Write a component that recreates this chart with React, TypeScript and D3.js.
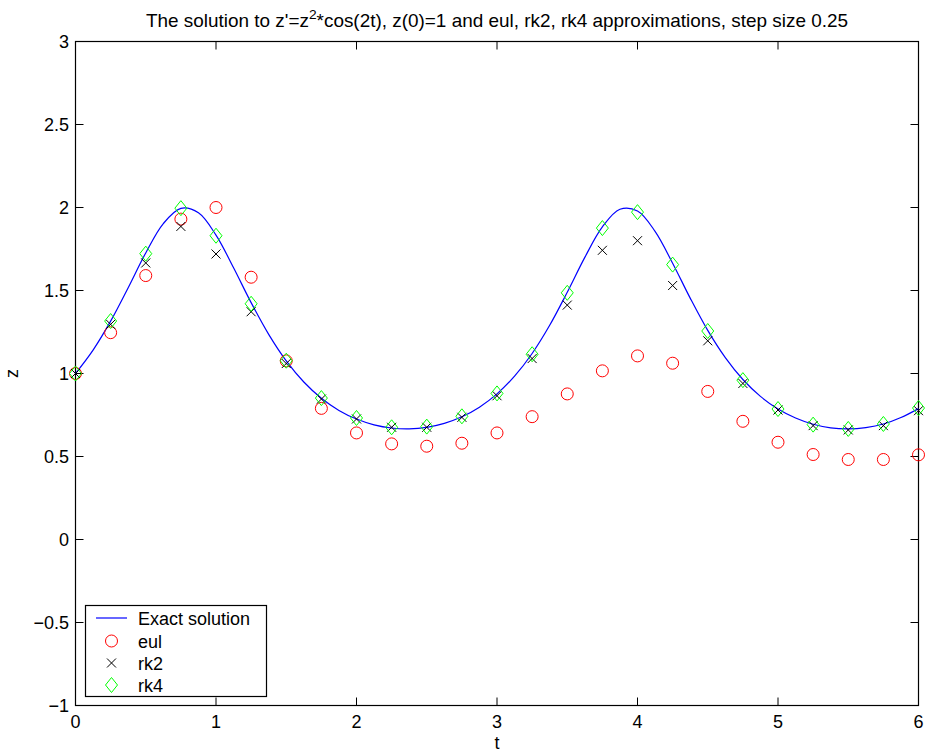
import React from "react";
import * as d3 from "d3";

// Exact solution sampled every 0.125
const exactT: number[] = d3.range(0, 6.0001, 0.125).map((v) => +v.toFixed(3));
const exactZ: number[] = [
  1.0, 1.1412, 1.3153, 1.517, 1.7264, 1.903, 1.995, 1.9685, 1.8337, 1.6368,
  1.427, 1.2359, 1.0759, 0.9487, 0.8508, 0.7777, 0.7255, 0.6908, 0.6717,
  0.6668, 0.6759, 0.6996, 0.7392, 0.7974, 0.8774, 0.9837, 1.1205, 1.2903,
  1.4892, 1.6994, 1.8832, 1.9893, 1.979, 1.8565, 1.6646, 1.4542, 1.2595,
  1.0955, 0.9638, 0.8621, 0.7862, 0.7319, 0.6945, 0.6729, 0.6667, 0.6744,
  0.6955, 0.7345, 0.7885,
];

const stepT: number[] = [
  0, 0.25, 0.5, 0.75, 1, 1.25, 1.5, 1.75, 2, 2.25, 2.5, 2.75, 3, 3.25, 3.5,
  3.75, 4, 4.25, 4.5, 4.75, 5, 5.25, 5.5, 5.75, 6,
];
const eulZ: number[] = [
  1.0, 1.246, 1.59, 1.93, 2.0, 1.58, 1.076, 0.79, 0.642, 0.576, 0.562, 0.58,
  0.642, 0.74, 0.877, 1.016, 1.106, 1.062, 0.892, 0.712, 0.586, 0.512, 0.482,
  0.482, 0.51,
];
const rk2Z: number[] = [
  1.0, 1.296, 1.666, 1.886, 1.72, 1.372, 1.06, 0.846, 0.726, 0.676, 0.676,
  0.736, 0.866, 1.09, 1.412, 1.742, 1.8, 1.53, 1.197, 0.94, 0.78, 0.686, 0.66,
  0.686, 0.776,
];
const rk4Z: number[] = [
  1.0, 1.316, 1.722, 1.996, 1.83, 1.42, 1.077, 0.852, 0.732, 0.676, 0.68,
  0.742, 0.88, 1.116, 1.486, 1.876, 1.972, 1.656, 1.256, 0.96, 0.786, 0.692,
  0.666, 0.696, 0.792,
];

const xTicks: number[] = [0, 1, 2, 3, 4, 5, 6];
const yTicks: number[] = [-1, -0.5, 0, 0.5, 1, 1.5, 2, 2.5, 3];
const legendLabels: string[] = ["Exact solution", "eul", "rk2", "rk4"];

const W = 926;
const H = 753;
const L = 75.5;
const R = 918.5;
const T = 41.5;
const B = 705.5;
const FONT = "'Liberation Sans', Arial, Helvetica, sans-serif";

const fmt = (v: number) => {
  const s = String(v);
  return s.startsWith("-") ? "\u2212" + s.slice(1) : s;
};

export default function App() {
  const x = d3.scaleLinear().domain([0, 6]).range([L, R]);
  const y = d3.scaleLinear().domain([-1, 3]).range([B, T]);
  const line = d3
    .line<number>()
    .x((_, i) => x(exactT[i]))
    .y((d) => y(d))
    .curve(d3.curveCatmullRom.alpha(0.5));
  const tickLen = 8;

  const circle = (cx: number, cy: number, key: string) => (
    <circle key={key} cx={cx} cy={cy} r={6} fill="none" stroke="#ff0000" strokeWidth={1} />
  );
  const cross = (cx: number, cy: number, key: string) => {
    const s = 4.5;
    return (
      <path
        key={key}
        d={`M${cx - s},${cy - s}L${cx + s},${cy + s}M${cx - s},${cy + s}L${cx + s},${cy - s}`}
        stroke="#000"
        strokeWidth={1}
        fill="none"
      />
    );
  };
  const diamond = (cx: number, cy: number, key: string) => {
    const a = 6;
    const b = 7.5;
    return (
      <path
        key={key}
        d={`M${cx},${cy - b}L${cx + a},${cy}L${cx},${cy + b}L${cx - a},${cy}Z`}
        stroke="#00ff00"
        strokeWidth={1}
        fill="none"
      />
    );
  };

  const lgX = 85.5;
  const lgY = 605.5;
  const lgW = 181;
  const lgH = 91;
  const rowY = [618, 641, 663, 685];

  return (
    <svg
      width={W}
      height={H}
      style={{ position: "absolute", left: 0, top: 0, background: "#fff" }}
      fontFamily={FONT}
    >
      <rect x={0} y={0} width={W} height={H} fill="#fff" />
      {/* title */}
      <text
        x={(L + R) / 2}
        y={27}
        textAnchor="middle"
        fontSize={18.5}
        fill="#000"
        textLength={702}
        lengthAdjust="spacingAndGlyphs"
      >
        The solution to z'=z<tspan dy={-8} fontSize={13.5}>2</tspan>
        <tspan dy={8}>*cos(2t), z(0)=1 and eul, rk2, rk4 approximations, step size 0.25</tspan>
      </text>

      {/* axes box */}
      <rect x={L} y={T} width={R - L} height={B - T} fill="none" stroke="#000" strokeWidth={1.2} />

      {/* ticks */}
      {xTicks.map((t) => (
        <g key={"xt" + t}>
          <line x1={x(t)} x2={x(t)} y1={B} y2={B - tickLen} stroke="#000" />
          <line x1={x(t)} x2={x(t)} y1={T} y2={T + tickLen} stroke="#000" />
          <text x={x(t)} y={728} textAnchor="middle" fontSize={18}>
            {fmt(t)}
          </text>
        </g>
      ))}
      {yTicks.map((t) => (
        <g key={"yt" + t}>
          <line x1={L} x2={L + tickLen} y1={y(t)} y2={y(t)} stroke="#000" />
          <line x1={R} x2={R - tickLen} y1={y(t)} y2={y(t)} stroke="#000" />
          <text x={69} y={y(t) + 6.5} textAnchor="end" fontSize={18}>
            {fmt(t)}
          </text>
        </g>
      ))}

      {/* axis labels */}
      <text x={497} y={749} textAnchor="middle" fontSize={18}>
        t
      </text>
      <text
        transform={`translate(18,${y(1)}) rotate(-90)`}
        textAnchor="middle"
        fontSize={18}
      >
        z
      </text>

      {/* exact solution */}
      <path d={line(exactZ) || ""} fill="none" stroke="#0000ff" strokeWidth={1.2} />

      {/* markers */}
      {stepT.map((t, i) => circle(x(t), y(eulZ[i]), "e" + i))}
      {stepT.map((t, i) => cross(x(t), y(rk2Z[i]), "r2" + i))}
      {stepT.map((t, i) => diamond(x(t), y(rk4Z[i]), "r4" + i))}

      {/* legend */}
      <rect x={lgX} y={lgY} width={lgW} height={lgH} fill="#fff" stroke="#000" strokeWidth={1.2} />
      <line x1={96} x2={127} y1={rowY[0]} y2={rowY[0]} stroke="#0000ff" strokeWidth={1.2} />
      {circle(111.5, rowY[1], "lg1")}
      {cross(111.5, rowY[2], "lg2")}
      {diamond(111.5, rowY[3], "lg3")}
      {legendLabels.map((s, i) => (
        <text key={"lt" + i} x={138} y={rowY[i] + 6.5} fontSize={18}>
          {s}
        </text>
      ))}
    </svg>
  );
}
